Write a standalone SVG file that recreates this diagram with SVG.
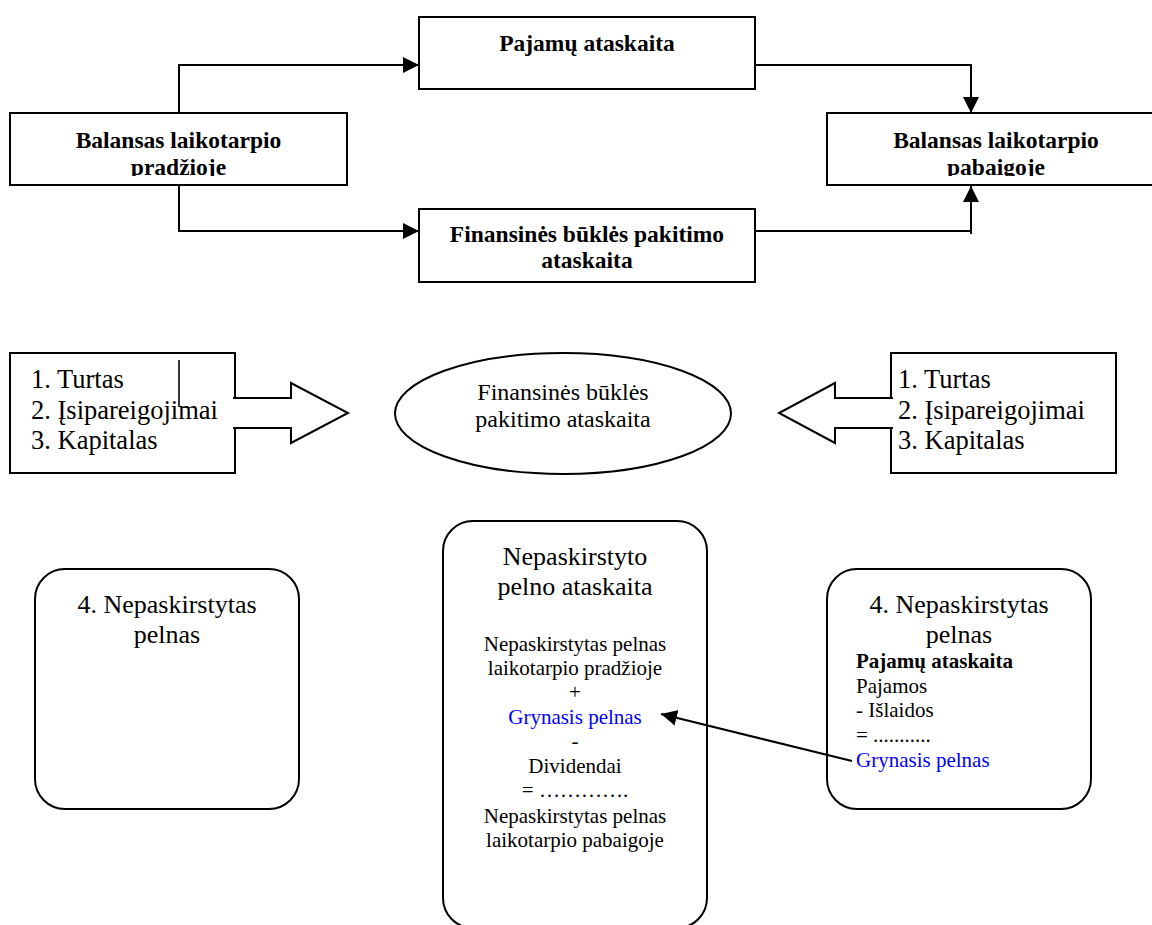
<svg xmlns="http://www.w3.org/2000/svg" width="1152" height="925" viewBox="0 0 1152 925">
<style>
.box{fill:#fff;stroke:#000;stroke-width:2}
.ln{fill:none;stroke:#000;stroke-width:2}
.b{font-family:"Liberation Serif","Times New Roman",serif;font-weight:bold;font-size:23.5px;fill:#000}
.r{font-family:"Liberation Serif","Times New Roman",serif;font-size:26px;fill:#000}
.l{font-family:"Liberation Serif","Times New Roman",serif;font-size:26.5px;fill:#000}
.m{font-family:"Liberation Serif","Times New Roman",serif;font-size:24px;fill:#000}
.s{font-family:"Liberation Serif","Times New Roman",serif;font-size:21px;fill:#000}
.sb{font-family:"Liberation Serif","Times New Roman",serif;font-size:21px;font-weight:bold;fill:#000}
.blue{fill:#0000ff}
.c{text-anchor:middle}
</style>
<defs>
<marker id="ah" viewBox="0 0 16 16" refX="16" refY="8" markerWidth="16" markerHeight="16" orient="auto" markerUnits="userSpaceOnUse">
<path d="M0,0 L16,8 L0,16 z" fill="#000"/>
</marker>
<clipPath id="clipL"><rect x="10" y="113" width="337" height="63"/></clipPath>
<clipPath id="clipR"><rect x="827" y="113" width="340" height="63"/></clipPath>
</defs>
<rect width="1152" height="925" fill="#fff"/>

<g id="balansas-pradzioje">
<rect class="box" x="10" y="113" width="337" height="72"/>
<g clip-path="url(#clipL)">
<text class="b c" x="178.5" y="148">Balansas laikotarpio</text>
<text class="b c" x="178.5" y="175">pradžioje</text>
</g>
</g>

<g id="pajamu-ataskaita">
<rect class="box" x="419" y="17" width="336" height="72"/>
<text class="b c" x="587" y="51">Pajamų ataskaita</text>
</g>

<g id="finansines-bukles">
<rect class="box" x="419" y="209" width="336" height="73"/>
<text class="b c" x="587" y="242">Finansinės būklės pakitimo</text>
<text class="b c" x="587" y="268">ataskaita</text>
</g>

<g id="balansas-pabaigoje">
<rect class="box" x="827" y="113" width="340" height="72"/>
<g clip-path="url(#clipR)">
<text class="b c" x="996" y="148">Balansas laikotarpio</text>
<text class="b c" x="996" y="175">pabaigoje</text>
</g>
</g>

<g id="list-left">
<rect class="box" x="10" y="353" width="225" height="120"/>
<path class="box" d="M233,398 H291 V383 L348,413 L291,443 V428 H233"/>
<path class="ln" d="M179,360 V407" style="stroke-width:1.6"/>
<text class="l" x="31" y="388">1. Turtas</text>
<text class="l" x="31" y="419">2. Įsipareigojimai</text>
<text class="l" x="31" y="449">3. Kapitalas</text>
</g>

<g id="ellipse-fbp">
<ellipse class="box" cx="563" cy="413.5" rx="168" ry="60.5"/>
<text class="m c" x="563" y="400">Finansinės būklės</text>
<text class="m c" x="563" y="427">pakitimo ataskaita</text>
</g>

<g id="list-right">
<rect class="box" x="891" y="353" width="225" height="120"/>
<path class="box" d="M893,398 H835 V383 L779,413 L835,443 V428 H893"/>
<text class="l" x="898" y="388">1. Turtas</text>
<text class="l" x="898" y="419">2. Įsipareigojimai</text>
<text class="l" x="898" y="449">3. Kapitalas</text>
</g>

<g id="nepaskirstytas-left">
<rect class="box" x="35" y="569" width="264" height="240" rx="30" ry="30"/>
<text class="r c" x="167" y="613">4. Nepaskirstytas</text>
<text class="r c" x="167" y="643">pelnas</text>
</g>

<g id="nepaskirstyto-ataskaita">
<rect class="box" x="443" y="521" width="264" height="407" rx="30" ry="30"/>
<text class="r c" x="575" y="565">Nepaskirstyto</text>
<text class="r c" x="575" y="595">pelno ataskaita</text>
<text class="s c" x="575" y="651">Nepaskirstytas pelnas</text>
<text class="s c" x="575" y="675">laikotarpio pradžioje</text>
<text class="s c" x="575" y="699">+</text>
<text class="s c blue" x="575" y="724">Grynasis pelnas</text>
<text class="s c" x="575" y="748">-</text>
<text class="s c" x="575" y="773">Dividendai</text>
<text class="s c" x="575" y="797">= ………….</text>
<text class="s c" x="575" y="823">Nepaskirstytas pelnas</text>
<text class="s c" x="575" y="847">laikotarpio pabaigoje</text>
</g>

<g id="nepaskirstytas-right">
<rect class="box" x="827" y="569" width="264" height="240" rx="30" ry="30"/>
<text class="r c" x="959" y="613">4. Nepaskirstytas</text>
<text class="r c" x="959" y="643">pelnas</text>
<text class="sb" x="856" y="668">Pajamų ataskaita</text>
<text class="s" x="856" y="693">Pajamos</text>
<text class="s" x="856" y="717">- Išlaidos</text>
<text class="s" x="856" y="742">= ...........</text>
<text class="s blue" x="856" y="767">Grynasis pelnas</text>
</g>

<g id="connectors">
<path class="ln" d="M179,113 V65 H419" marker-end="url(#ah)"/>
<path class="ln" d="M179,185 V231 H419" marker-end="url(#ah)"/>
<path class="ln" d="M755,65 H971 V113" marker-end="url(#ah)"/>
<path class="ln" d="M755,231 H971 M971,234 V186" marker-end="url(#ah)"/>
<path class="ln" d="M852,761 L661,714" marker-end="url(#ah)"/>
</g>
</svg>
